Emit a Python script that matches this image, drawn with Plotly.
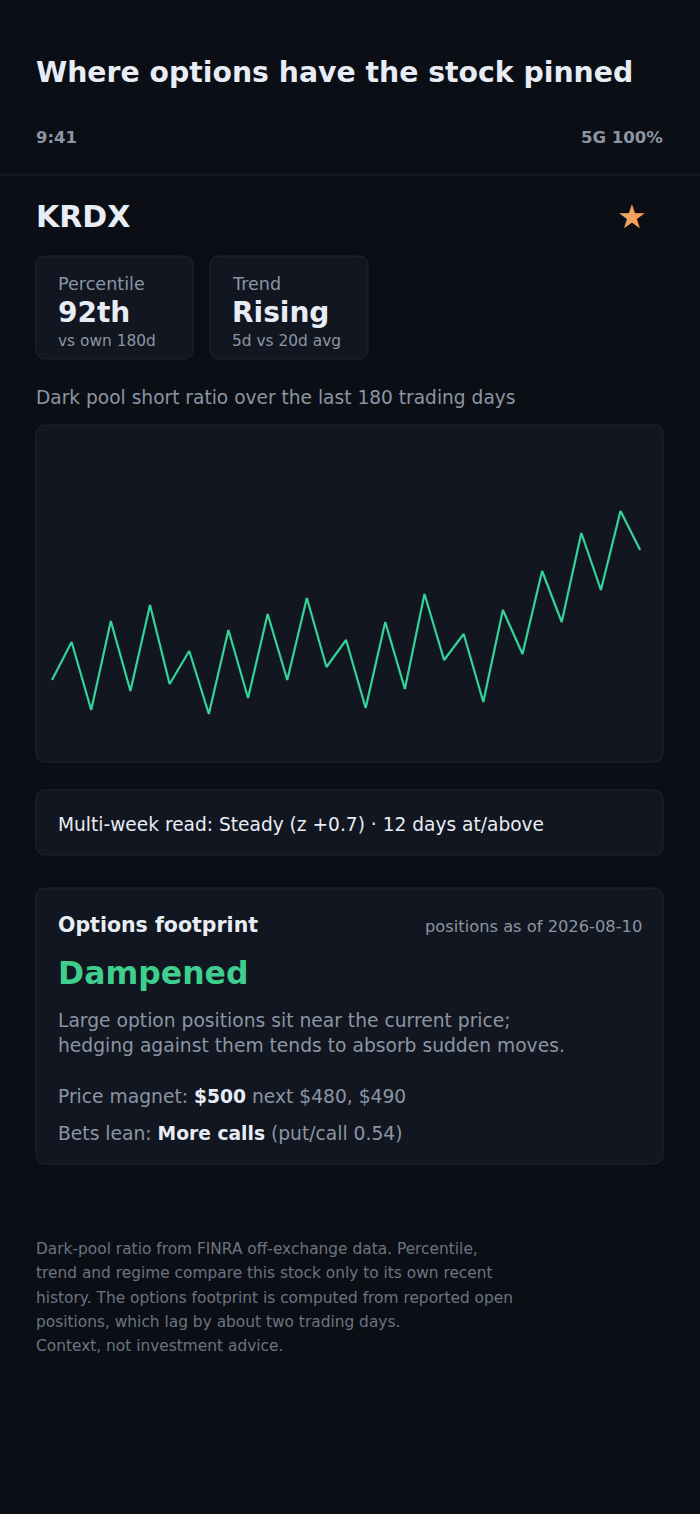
import plotly.graph_objects as go

W, H = 700, 1514

# dark pool short ratio (%), sampled every 6 trading days over the last 180
days = list(range(0, 181, 6))
short_ratio = [42.0, 45.8, 39.0, 47.9, 40.9, 49.5, 41.6, 44.9, 38.6, 47.0,
               40.2, 48.6, 42.0, 50.2, 43.3, 46.0, 39.2, 47.8, 41.1, 50.6,
               44.0, 46.6, 39.8, 49.0, 44.6, 52.9, 47.8, 56.7, 51.0, 58.9,
               55.0]

stat_labels = ["Percentile", "Trend"]
stat_values = ["92th", "Rising"]
stat_notes = ["vs own 180d", "5d vs 20d avg"]

footer_lines = [
    "Dark-pool ratio from FINRA off-exchange data. Percentile,",
    "trend and regime compare this stock only to its own recent",
    "history. The options footprint is computed from reported open",
    "positions, which lag by about two trading days.",
    "Context, not investment advice.",
]

BG = "#0b0e15"
CARD = "#111620"
BORDER = "#1f2630"
TXT = "#e8ecf4"
GRAY = "#8b95a3"
DIM = "#6b7482"
GREEN = "#3ecf8e"
LINE = "#34d399"
FONT = "DejaVu Sans"


def px(x):
    return x / W


def py(y):
    return 1 - y / H


def rounded_box(x0, y0, x1, y1, r=10):
    # rounded rectangle path in paper coords, built from pixel coords
    p = [
        f"M {px(x0 + r)} {py(y0)}",
        f"L {px(x1 - r)} {py(y0)}",
        f"Q {px(x1)} {py(y0)} {px(x1)} {py(y0 + r)}",
        f"L {px(x1)} {py(y1 - r)}",
        f"Q {px(x1)} {py(y1)} {px(x1 - r)} {py(y1)}",
        f"L {px(x0 + r)} {py(y1)}",
        f"Q {px(x0)} {py(y1)} {px(x0)} {py(y1 - r)}",
        f"L {px(x0)} {py(y0 + r)}",
        f"Q {px(x0)} {py(y0)} {px(x0 + r)} {py(y0)}",
        "Z",
    ]
    return dict(type="path", path=" ".join(p), xref="paper", yref="paper",
                fillcolor=CARD, line=dict(color=BORDER, width=1), layer="below")


def label(x, y, text, size, color=TXT, bold=False, anchor="left"):
    if bold:
        text = f"<b>{text}</b>"
    shift = {"left": -2, "right": 2, "center": 0}[anchor]
    return dict(x=px(x), y=py(y), xref="paper", yref="paper", text=text,
                showarrow=False, xanchor=anchor, yanchor="middle", xshift=shift,
                font=dict(family=FONT, size=size, color=color))


fig = go.Figure()
fig.add_trace(go.Scatter(x=days, y=short_ratio, mode="lines",
                         line=dict(color=LINE, width=2.2), hoverinfo="skip"))

shapes = [
    dict(type="line", xref="paper", yref="paper", x0=0, x1=1,
         y0=py(175), y1=py(175), line=dict(color="#1c232d", width=1)),
    rounded_box(36, 256, 193, 359),
    rounded_box(210, 256, 368, 359),
    rounded_box(36, 425, 663, 762),
    rounded_box(36, 790, 663, 855),
    rounded_box(36, 888, 663, 1164),
]

ann = [
    label(36, 72, "Where options have the stock pinned", 28.3, TXT, bold=True),
    label(36, 137, "9:41", 16.5, GRAY, bold=True),
    label(663, 137, "5G 100%", 16.5, GRAY, bold=True, anchor="right"),
    label(36, 217, "KRDX", 30, TXT, bold=True),
    label(632, 216, "★", 33, "#f2a35e", anchor="center"),
    label(36, 398, "Dark pool short ratio over the last 180 trading days", 18.6, GRAY),
    label(58, 824, "Multi-week read: Steady (z +0.7) · 12 days at/above", 18.6, TXT),
    label(58, 925, "Options footprint", 20.5, TXT, bold=True),
    label(642, 926, "positions as of 2026-08-10", 16.3, GRAY, anchor="right"),
    label(58, 973, "Dampened", 31.5, GREEN, bold=True),
    label(58, 1020, "Large option positions sit near the current price;", 18.7, GRAY),
    label(58, 1045, "hedging against them tends to absorb sudden moves.", 18.7, GRAY),
    label(58, 1096, f"Price magnet: <b><span style='color:{TXT}'>$500</span></b> next $480, $490", 18.7, GRAY),
    label(58, 1133, f"Bets lean: <b><span style='color:{TXT}'>More calls</span></b> (put/call 0.54)", 18.7, GRAY),
]

card_x = [58, 232]
for i in range(len(stat_labels)):
    ann.append(label(card_x[i], 284, stat_labels[i], 17.6, GRAY))
    ann.append(label(card_x[i], 313, stat_values[i], 28, TXT, bold=True))
    ann.append(label(card_x[i], 341, stat_notes[i], 15.4, GRAY))

for i, line in enumerate(footer_lines):
    ann.append(label(36, 1249 + i * 24.3, line, 15.4, DIM))

fig.update_layout(
    width=W, height=H,
    margin=dict(l=0, r=0, t=0, b=0),
    paper_bgcolor=BG,
    plot_bgcolor="rgba(0,0,0,0)",
    showlegend=False,
    shapes=shapes,
    annotations=ann,
    xaxis=dict(domain=[px(36), px(663)], range=[-4.9, 187.0],
               visible=False, fixedrange=True),
    yaxis=dict(domain=[py(762), py(425)], range=[33.8, 67.5],
               visible=False, fixedrange=True),
)

fig.write_html("out.html", config={"displayModeBar": False},
               post_script="document.body.style.margin='0';")
